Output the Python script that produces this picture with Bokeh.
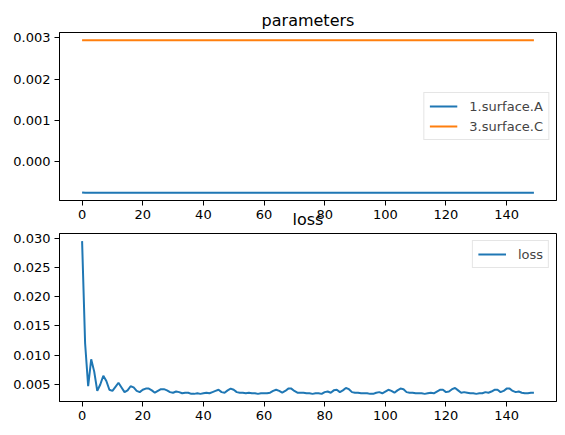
from bokeh.plotting import figure
from bokeh.layouts import column
from bokeh.models import Range1d, FixedTicker, NumeralTickFormatter
from bokeh.embed import file_html
from bokeh.resources import INLINE

# ---------------- data ----------------
steps = list(range(150))
param_A = [-0.00074] + [-0.00075] * 149
param_C = [0.00294] * 150
loss = [
    0.0295, 0.0120, 0.0047, 0.0093, 0.0072, 0.0039, 0.0050, 0.0065, 0.0056, 0.0041,
    0.0039, 0.0046, 0.0053, 0.0045, 0.0037, 0.0040, 0.0047, 0.0045, 0.0039, 0.0037,
    0.0041, 0.0043, 0.0043, 0.0040, 0.0036, 0.0039, 0.0042, 0.0042, 0.0040, 0.0037,
    0.0036, 0.0038, 0.0037, 0.0035, 0.0036, 0.0036, 0.0034, 0.0034, 0.0035, 0.0034,
    0.0035, 0.0036, 0.0035, 0.0037, 0.0039, 0.0041, 0.0037, 0.0036, 0.0040, 0.0043,
    0.0041, 0.0037, 0.0036, 0.0036, 0.0035, 0.0036, 0.0035, 0.0035, 0.0034, 0.0035,
    0.0035, 0.0035, 0.0036, 0.0039, 0.0041, 0.0039, 0.0036, 0.0039, 0.0043, 0.0043,
    0.0039, 0.0036, 0.0036, 0.0036, 0.0035, 0.0035, 0.0034, 0.0035, 0.0035, 0.0034,
    0.0037, 0.0038, 0.0036, 0.0040, 0.0041, 0.0037, 0.0040, 0.0044, 0.0042, 0.0037,
    0.0036, 0.0036, 0.0035, 0.0035, 0.0035, 0.0034, 0.0034, 0.0036, 0.0037, 0.0035,
    0.0038, 0.0041, 0.0039, 0.0036, 0.0040, 0.0043, 0.0042, 0.0037, 0.0036, 0.0036,
    0.0035, 0.0035, 0.0035, 0.0034, 0.0035, 0.0036, 0.0035, 0.0038, 0.0041, 0.0041,
    0.0037, 0.0038, 0.0042, 0.0044, 0.0040, 0.0036, 0.0037, 0.0036, 0.0035, 0.0035,
    0.0034, 0.0035, 0.0035, 0.0037, 0.0036, 0.0038, 0.0041, 0.0041, 0.0037, 0.0039,
    0.0043, 0.0043, 0.0039, 0.0037, 0.0038, 0.0036, 0.0035, 0.0035, 0.0036, 0.0036,
]
x_ticks = [0, 20, 40, 60, 80, 100, 120, 140]
param_ticks = [0.000, 0.001, 0.002, 0.003]
loss_ticks = [0.005, 0.010, 0.015, 0.020, 0.025, 0.030]

BLUE = "#1f77b4"
ORANGE = "#ff7f0e"
FONT = "DejaVu Sans"


def padded(vals):
    lo, hi = min(vals), max(vals)
    pad = 0.05 * (hi - lo)
    return Range1d(lo - pad, hi + pad)


def style(p, yticks):
    p.outline_line_color = "black"
    p.outline_line_width = 1
    p.xgrid.visible = False
    p.ygrid.visible = False
    p.background_fill_color = "white"
    p.border_fill_color = "white"
    for ax in (p.xaxis[0], p.yaxis[0]):
        ax.axis_line_color = "black"
        ax.major_tick_line_color = "black"
        ax.major_tick_out = 5
        ax.major_tick_in = 0
        ax.minor_tick_line_color = None
        ax.major_label_text_font = FONT
        ax.major_label_text_font_size = "13px"
        ax.major_label_text_color = "black"
        ax.major_label_standoff = 4
    p.xaxis[0].ticker = FixedTicker(ticks=x_ticks)
    p.yaxis[0].ticker = FixedTicker(ticks=yticks)
    p.yaxis[0].formatter = NumeralTickFormatter(format="0.000")
    p.xaxis[0].formatter = NumeralTickFormatter(format="0")


def style_legend(p, loc):
    lg = p.legend[0]
    lg.location = loc
    lg.margin = 7
    lg.padding = 5
    lg.spacing = 4
    lg.glyph_width = 28
    lg.glyph_height = 16
    lg.label_height = 16
    lg.label_standoff = 12
    lg.label_text_font = FONT
    lg.label_text_font_size = "13px"
    lg.border_line_color = "#cccccc"
    lg.border_line_width = 1
    lg.background_fill_alpha = 0.8


xr = padded(steps)

# ---------------- top: parameters ----------------
p1 = figure(width=557, height=232, output_backend="svg", toolbar_location=None,
            x_range=xr, y_range=padded(param_A + param_C),
            min_border_left=59, min_border_right=1, min_border_top=32, min_border_bottom=32)
style(p1, param_ticks)
p1.title.text = "parameters"
p1.title.align = "center"
p1.title.text_font = FONT
p1.title.text_font_size = "16px"
p1.title.text_font_style = "normal"
p1.title.text_color = "black"
p1.title.standoff = 6
p1.line(steps, param_A, color=BLUE, line_width=2, legend_label="1.surface.A")
p1.line(steps, param_C, color=ORANGE, line_width=2, legend_label="3.surface.C")
style_legend(p1, "center_right")

# the "loss" subplot title overlaps the x tick labels above it, as in the original
p1.xaxis[0].axis_label = "loss"
p1.xaxis[0].axis_label_text_font = FONT
p1.xaxis[0].axis_label_text_font_size = "16px"
p1.xaxis[0].axis_label_text_font_style = "normal"
p1.xaxis[0].axis_label_text_color = "black"
p1.xaxis[0].axis_label_standoff = -12

# ---------------- bottom: loss ----------------
p2 = figure(width=557, height=195, output_backend="svg", toolbar_location=None,
            x_range=xr, y_range=padded(loss),
            min_border_left=59, min_border_right=1, min_border_top=1, min_border_bottom=26)
style(p2, loss_ticks)
p2.line(steps, loss, color=BLUE, line_width=2, legend_label="loss")
style_legend(p2, "top_right")

layout = column(p1, p2, spacing=0)
open("out.html", "w").write(file_html(layout, INLINE))
